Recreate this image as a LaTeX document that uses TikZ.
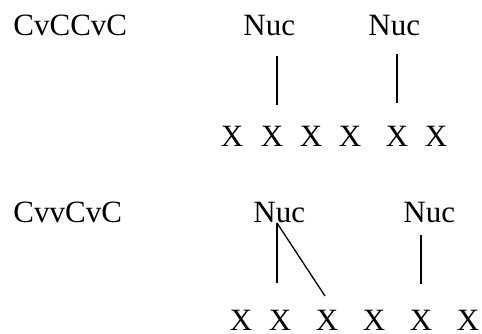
\documentclass[tikz,border=0pt]{standalone}
\usepackage{fontspec}
\setmainfont{Liberation Serif}
\begin{document}
\begin{tikzpicture}[x=0.5pt,y=-0.5pt,
	lab/.style={anchor=base west,inner sep=0pt,font=\fontsize{15.5}{18}\selectfont},
	slot/.style={anchor=base,inner sep=0pt,font=\fontsize{15.5}{18}\selectfont},
	assoc/.style={line width=0.65pt}]
	\useasboundingbox (0,0) rectangle (482,333);

	% first form CvCCvC
	\node[lab] (formA) at (13,35) {CvCCvC};
	\node[lab] (nucA1) at (243,35) {Nuc};
	\node[lab] (nucA2) at (368,35) {Nuc};
	\foreach \i/\x in {1/232,2/272,3/311,4/350,5/397,6/436}
		\node[slot] (xA\i) at (\x,146) {X};
	\coordinate (nucA1end) at (277,56);
	\coordinate (xA2end) at (277,105);
	\coordinate (nucA2end) at (397,54);
	\coordinate (xA5end) at (397,103);
	\draw[assoc] (nucA1end) -- (xA2end);
	\draw[assoc] (nucA2end) -- (xA5end);

	% second form CvvCvC
	\node[lab] (formB) at (13,222) {CvvCvC};
	\node[lab] (nucB1) at (253,222) {Nuc};
	\node[lab] (nucB2) at (403,222) {Nuc};
	\foreach \i/\x in {1/241,2/280,3/327,4/374,5/421,6/468}
		\node[slot] (xB\i) at (\x,330) {X};
	\coordinate (nucB1end) at (277,223);
	\coordinate (xB2end) at (277,283);
	\coordinate (xB3end) at (325,296);
	\coordinate (nucB2end) at (421,235);
	\coordinate (xB5end) at (421,284);
	\draw[assoc] (nucB1end) -- (xB2end);
	\draw[assoc] (nucB1end) -- (xB3end);
	\draw[assoc] (nucB2end) -- (xB5end);
\end{tikzpicture}
\end{document}
